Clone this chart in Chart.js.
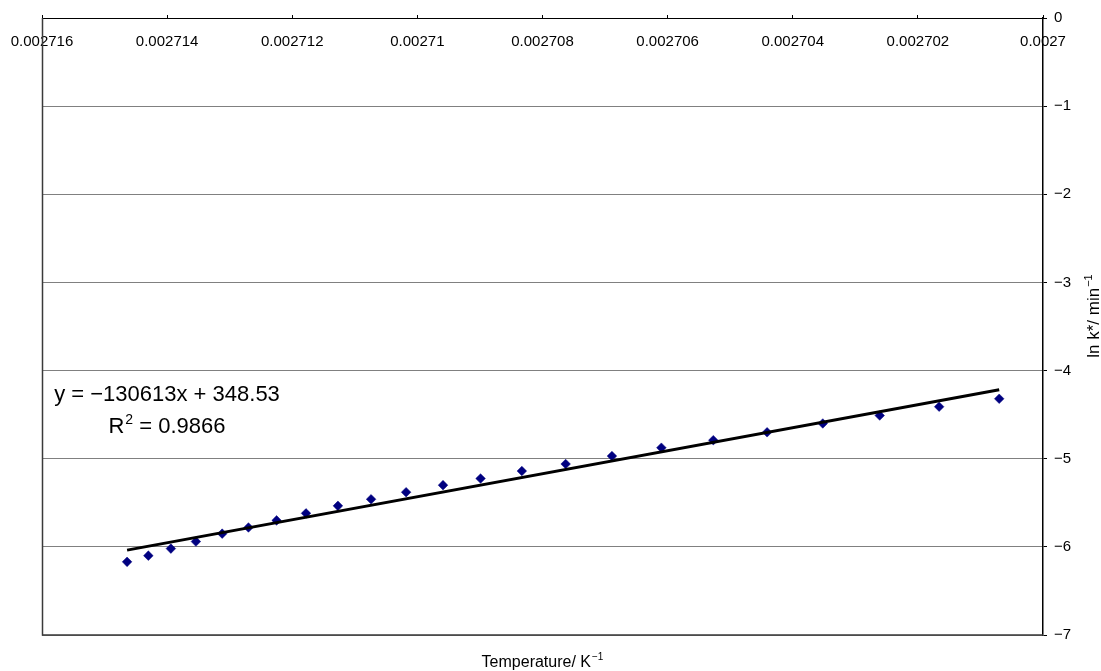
<!DOCTYPE html>
<html>
<head>
<meta charset="utf-8">
<script src="https://cdn.jsdelivr.net/npm/chart.js@4.4.1/dist/chart.umd.min.js"></script>
<style>
  html, body { margin: 0; padding: 0; background: #ffffff; }
  canvas { display: block; }
</style>
</head>
<body>
<canvas id="chart" width="1101" height="671"></canvas>
<script>
// Reciprocal temperature of each reading, K^-1
const invTemperature = [
  0.00271464, 0.00271430, 0.00271394, 0.00271354, 0.00271312, 0.00271270,
  0.00271225, 0.00271178, 0.00271127, 0.00271074, 0.00271018, 0.00270959,
  0.00270899, 0.00270833, 0.00270763, 0.00270689, 0.00270610, 0.00270527,
  0.00270441, 0.00270352, 0.00270261, 0.00270166, 0.00270070
];
// ln k* of each reading, k* in min^-1
const lnRate = [
  -6.17, -6.10, -6.02, -5.94, -5.85, -5.78,
  -5.70, -5.62, -5.535, -5.46, -5.38, -5.30,
  -5.225, -5.14, -5.06, -4.97, -4.875, -4.79,
  -4.70, -4.60, -4.51, -4.41, -4.32
];

// Least-squares line reported for the series
const trendSlope = -130613;
const trendIntercept = 348.53;
const trendR2 = 0.9866;

// Axis ticks
const xTickValues = [0.002716, 0.002714, 0.002712, 0.00271, 0.002708, 0.002706, 0.002704, 0.002702, 0.0027];
const xTickLabels = ['0.002716', '0.002714', '0.002712', '0.00271', '0.002708', '0.002706', '0.002704', '0.002702', '0.0027'];
const yTickValues = [0, -1, -2, -3, -4, -5, -6, -7];
const yTickLabels = ['0', '\u22121', '\u22122', '\u22123', '\u22124', '\u22125', '\u22126', '\u22127'];

const FONT = '"Liberation Sans", Arial, sans-serif';

const points = invTemperature.map((x, i) => ({ x: x, y: lnRate[i] }));
const xLo = Math.min(...invTemperature);
const xHi = Math.max(...invTemperature);
const trendPoints = [xLo, xHi].map(x => ({ x: x, y: trendSlope * x + trendIntercept }));

function labelFor(values, labels, v) {
  const i = values.findIndex(t => Math.abs(t - v) < 1e-12);
  return i >= 0 ? labels[i] : '';
}

// Draws a run of text pieces where some pieces are superscripts.
function drawRich(ctx, pieces, x, y, size, align) {
  const supSize = Math.round(size * 0.62);
  let total = 0;
  const widths = pieces.map(p => {
    ctx.font = (p.sup ? supSize : size) + 'px ' + FONT;
    const w = ctx.measureText(p.text).width + (p.sup ? 1 : 0);
    total += w;
    return w;
  });
  let cx = align === 'center' ? x - total / 2 : x;
  ctx.textAlign = 'left';
  ctx.textBaseline = 'alphabetic';
  pieces.forEach((p, i) => {
    ctx.font = (p.sup ? supSize : size) + 'px ' + FONT;
    ctx.fillText(p.text, cx + (p.sup ? 1 : 0), p.sup ? y - size * 0.42 : y);
    cx += widths[i];
  });
}

const fmtSigned = v => (v < 0 ? '\u2212' + Math.abs(v) : String(v));

const chartDecor = {
  id: 'chartDecor',
  beforeDraw(chart) {
    const ctx = chart.ctx;
    ctx.save();
    ctx.fillStyle = '#ffffff';
    ctx.fillRect(0, 0, chart.width, chart.height);
    ctx.restore();
  },
  afterDraw(chart) {
    const ctx = chart.ctx;
    const a = chart.chartArea;
    ctx.save();
    // plot frame: left and bottom edges
    ctx.strokeStyle = '#3a3a3a';
    ctx.lineWidth = 1.5;
    ctx.beginPath();
    ctx.moveTo(a.left + 0.5, a.top);
    ctx.lineTo(a.left + 0.5, a.bottom);
    ctx.lineTo(a.right, a.bottom);
    ctx.stroke();

    ctx.fillStyle = '#000000';
    // x axis title
    drawRich(ctx, [{ text: 'Temperature/ K' }, { text: '\u22121', sup: true }],
      (a.left + a.right) / 2, 667, 16, 'center');
    // y axis title, reading upward
    ctx.save();
    ctx.translate(1099, 316);
    ctx.rotate(-Math.PI / 2);
    drawRich(ctx, [{ text: 'ln k*/ min' }, { text: '\u22121', sup: true }], 0, 0, 17, 'center');
    ctx.restore();

    // trendline equation
    const eq = 'y = ' + fmtSigned(trendSlope) + 'x + ' + trendIntercept.toFixed(2);
    drawRich(ctx, [{ text: eq }], 167, 401, 22, 'center');
    drawRich(ctx, [{ text: 'R' }, { text: '2', sup: true }, { text: ' = ' + trendR2.toFixed(4) }], 167, 433, 22, 'center');
    ctx.restore();
  }
};

new Chart(document.getElementById('chart'), {
  type: 'scatter',
  data: {
    datasets: [
      {
        label: 'Linear fit',
        data: trendPoints,
        showLine: true,
        borderColor: '#000000',
        borderWidth: 3,
        pointRadius: 0,
        order: 0
      },
      {
        label: 'ln k*',
        data: points,
        pointStyle: 'rectRot',
        pointRadius: 4.8,
        backgroundColor: '#000080',
        borderColor: '#000080',
        borderWidth: 0.5,
        order: 1
      }
    ]
  },
  options: {
    responsive: false,
    animation: false,
    devicePixelRatio: 1,
    layout: { padding: { left: 42, top: 18, right: 0, bottom: 36 } },
    plugins: {
      legend: { display: false },
      tooltip: { enabled: false }
    },
    scales: {
      x: {
        type: 'linear',
        position: { y: 0 },
        min: 0.0027,
        max: 0.002716,
        reverse: true,
        afterBuildTicks: s => { s.ticks = xTickValues.map(v => ({ value: v })); },
        afterFit: s => { s.paddingLeft = 0; s.paddingRight = 0; },
        grid: { drawOnChartArea: false, drawTicks: true, tickLength: -4, tickColor: '#000000', lineWidth: 1 },
        border: { display: true, color: '#000000', width: 1 },
        ticks: {
          padding: 19,
          autoSkip: false,
          maxRotation: 0,
          color: '#000000',
          font: { family: FONT, size: 15 },
          callback: v => labelFor(xTickValues, xTickLabels, v)
        }
      },
      y: {
        type: 'linear',
        position: 'right',
        min: -7,
        max: 0,
        afterBuildTicks: s => { s.ticks = yTickValues.map(v => ({ value: v })); },
        afterFit: s => { s.width = 58; },
        grid: { color: '#808080', lineWidth: 1, drawTicks: true, tickLength: 4, tickColor: '#000000' },
        border: { display: true, color: '#000000', width: 1.5 },
        ticks: {
          padding: 7,
          color: '#000000',
          font: { family: FONT, size: 15 },
          callback: v => labelFor(yTickValues, yTickLabels, v)
        }
      }
    }
  },
  plugins: [chartDecor]
});
</script>
</body>
</html>
